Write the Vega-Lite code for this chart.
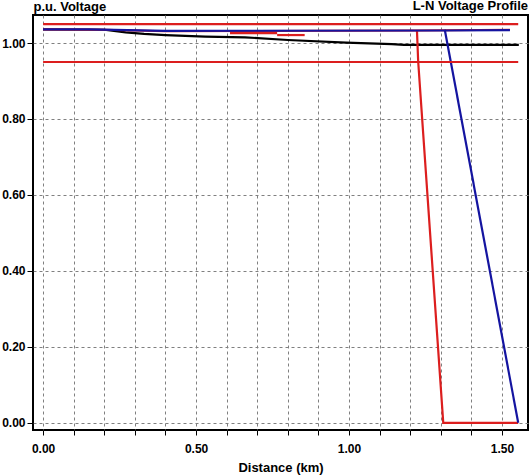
{
  "$schema": "https://vega.github.io/schema/vega-lite/v6.json",
  "width": 495,
  "height": 415,
  "autosize": {"type": "none"},
  "padding": {"left": 33, "top": 15, "right": 1, "bottom": 46},
  "background": "white",
  "config": {
    "view": {"stroke": "black", "strokeWidth": 2},
    "font": "Liberation Sans"
  },
  "title": {
    "text": "L-N Voltage Profile",
    "anchor": "end",
    "font": "Liberation Sans",
    "fontSize": 13,
    "fontWeight": "bold",
    "color": "black",
    "baseline": "alphabetic",
    "offset": 0,
    "dy": 23
  },
  "data": {
    "values": [
      {"seg": "k1", "phase": "black", "o": 1, "km": 0.0, "v": 1.036},
      {"seg": "k1", "phase": "black", "o": 2, "km": 0.2, "v": 1.035},
      {"seg": "k1", "phase": "black", "o": 3, "km": 0.27, "v": 1.028},
      {"seg": "k1", "phase": "black", "o": 4, "km": 0.33, "v": 1.024},
      {"seg": "k1", "phase": "black", "o": 5, "km": 0.4, "v": 1.021},
      {"seg": "k1", "phase": "black", "o": 6, "km": 0.53, "v": 1.017},
      {"seg": "k1", "phase": "black", "o": 7, "km": 0.66, "v": 1.015},
      {"seg": "k1", "phase": "black", "o": 8, "km": 0.8, "v": 1.008},
      {"seg": "k1", "phase": "black", "o": 9, "km": 0.99, "v": 1.001},
      {"seg": "k1", "phase": "black", "o": 10, "km": 1.14, "v": 0.997},
      {"seg": "k1", "phase": "black", "o": 11, "km": 1.18, "v": 0.995},
      {"seg": "k1", "phase": "black", "o": 12, "km": 1.555, "v": 0.995},
      {"seg": "r1", "phase": "red", "o": 1, "km": 0.0, "v": 1.036},
      {"seg": "r1", "phase": "red", "o": 2, "km": 0.2, "v": 1.035},
      {"seg": "r1", "phase": "red", "o": 3, "km": 0.4, "v": 1.031},
      {"seg": "r1", "phase": "red", "o": 4, "km": 1.222, "v": 1.033},
      {"seg": "r1", "phase": "red", "o": 5, "km": 1.526, "v": 1.035},
      {"seg": "r2", "phase": "red", "o": 1, "km": 1.222, "v": 1.034},
      {"seg": "r2", "phase": "red", "o": 2, "km": 1.226, "v": 0.952},
      {"seg": "r2", "phase": "red", "o": 3, "km": 1.308, "v": 0.0},
      {"seg": "r2", "phase": "red", "o": 4, "km": 1.553, "v": 0.0},
      {"seg": "r3", "phase": "red", "o": 1, "km": 0.611, "v": 1.026},
      {"seg": "r3", "phase": "red", "o": 2, "km": 0.765, "v": 1.026},
      {"seg": "r4", "phase": "red", "o": 1, "km": 0.765, "v": 1.021},
      {"seg": "r4", "phase": "red", "o": 2, "km": 0.855, "v": 1.021},
      {"seg": "b1", "phase": "blue", "o": 1, "km": 0.0, "v": 1.036},
      {"seg": "b1", "phase": "blue", "o": 2, "km": 0.15, "v": 1.036},
      {"seg": "b1", "phase": "blue", "o": 3, "km": 0.4, "v": 1.032},
      {"seg": "b1", "phase": "blue", "o": 4, "km": 1.313, "v": 1.033},
      {"seg": "b1", "phase": "blue", "o": 5, "km": 1.526, "v": 1.034},
      {"seg": "b2", "phase": "blue", "o": 1, "km": 1.313, "v": 1.035},
      {"seg": "b2", "phase": "blue", "o": 2, "km": 1.553, "v": 0.0},
      {"seg": "hi", "phase": "limit", "o": 1, "km": 0.0, "v": 1.05},
      {"seg": "hi", "phase": "limit", "o": 2, "km": 1.553, "v": 1.05},
      {"seg": "lo", "phase": "limit", "o": 1, "km": 0.0, "v": 0.95},
      {"seg": "lo", "phase": "limit", "o": 2, "km": 1.553, "v": 0.95}
    ]
  },
  "encoding": {
    "x": {
      "field": "km",
      "type": "quantitative",
      "scale": {"domain": [-0.033, 1.585], "nice": false, "zero": false},
      "axis": {
        "values": [0, 0.1, 0.2, 0.3, 0.4, 0.5, 0.6, 0.7, 0.8, 0.9, 1.0, 1.1, 1.2, 1.3, 1.4, 1.5],
        "labelExpr": "abs(datum.value * 2 - round(datum.value * 2)) < 0.001 ? format(datum.value, '.2f') : ''",
        "labelOverlap": false,
        "labelFlush": false,
        "domain": false,
        "grid": true,
        "gridDash": [3, 3],
        "gridColor": "#808080",
        "gridOpacity": 1,
        "gridWidth": 1,
        "tickColor": "black",
        "tickSize": 5,
        "tickWidth": 1,
        "labelFont": "Liberation Sans",
        "labelFontWeight": "bold",
        "labelFontSize": 12,
        "labelColor": "black",
        "labelPadding": 8,
        "title": "Distance (km)",
        "titleFont": "Liberation Sans",
        "titleFontWeight": "bold",
        "titleFontSize": 13,
        "titleColor": "black",
        "titlePadding": 7
      }
    },
    "y": {
      "field": "v",
      "type": "quantitative",
      "scale": {"domain": [-0.019, 1.0738], "nice": false, "zero": false},
      "axis": {
        "values": [0, 0.2, 0.4, 0.6, 0.8, 1.0],
        "format": ".2f",
        "labelOverlap": false,
        "labelFlush": false,
        "domain": false,
        "grid": true,
        "gridDash": [3, 3],
        "gridColor": "#808080",
        "gridOpacity": 1,
        "gridWidth": 1,
        "tickColor": "black",
        "tickSize": 6,
        "tickWidth": 1,
        "labelFont": "Liberation Sans",
        "labelFontWeight": "bold",
        "labelFontSize": 12,
        "labelColor": "black",
        "labelPadding": 2,
        "title": "p.u. Voltage",
        "titleFont": "Liberation Sans",
        "titleFontWeight": "bold",
        "titleFontSize": 13,
        "titleColor": "black",
        "titleAngle": 0,
        "titleAlign": "left",
        "titleBaseline": "alphabetic",
        "titleX": 0,
        "titleY": -5
      }
    },
    "detail": {"field": "seg"},
    "order": {"field": "o", "type": "quantitative"},
    "color": {
      "field": "phase",
      "type": "nominal",
      "scale": {"domain": ["black", "red", "blue", "limit"], "range": ["#000000", "#dc1e1e", "#1414a0", "#dc1e1e"]},
      "legend": null
    },
    "strokeWidth": {
      "field": "phase",
      "type": "nominal",
      "scale": {"domain": ["black", "red", "blue", "limit"], "range": [2.2, 2.2, 2.2, 3.5]},
      "legend": null
    }
  },
  "layer": [
    {"transform": [{"filter": "datum.phase == 'black'"}], "mark": {"type": "line"}},
    {"transform": [{"filter": "datum.phase == 'red'"}], "mark": {"type": "line"}},
    {"transform": [{"filter": "datum.phase == 'blue'"}], "mark": {"type": "line"}},
    {"transform": [{"filter": "datum.phase == 'limit'"}], "mark": {"type": "line"}}
  ]
}
